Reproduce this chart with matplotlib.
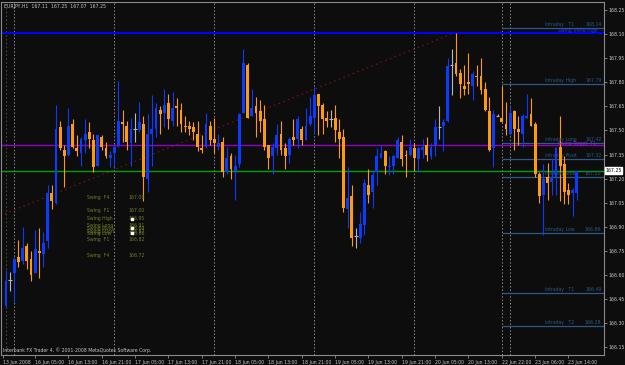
import numpy as np
import matplotlib
matplotlib.use('Agg')
import matplotlib.pyplot as plt

# EURJPY H1 candles, 13 Jun 22:00 .. 23 Jun 16:00
opens = [166.41, 166.57, 166.61, 166.71, 166.69, 166.78, 166.70, 166.61, 166.75, 166.73,
         166.81, 167.11, 167.05, 167.52, 167.38, 167.35, 167.54, 167.39, 167.36, 167.44,
         167.49, 167.44, 167.28, 167.46, 167.39, 167.33, 167.36, 167.41, 167.55, 167.53,
         167.42, 167.51, 167.50, 167.54, 167.20, 167.48, 167.51, 167.63, 167.61, 167.67,
         167.56, 167.65, 167.63, 167.53, 167.53, 167.52, 167.48, 167.39, 167.40, 167.53,
         167.45, 167.40, 167.43, 167.24, 167.34, 167.25, 167.29, 167.61, 167.91, 167.59,
         167.65, 167.62, 167.57, 167.41, 167.34, 167.39, 167.48, 167.39, 167.35, 167.46,
         167.45, 167.51, 167.44, 167.54, 167.58, 167.73, 167.66, 167.58, 167.57, 167.58,
         167.49, 167.46, 167.01, 167.09, 166.84, 166.83, 166.91, 167.16, 167.12, 167.24,
         167.33, 167.37, 167.27, 167.28, 167.33, 167.43, 167.35, 167.35, 167.39, 167.32,
         167.38, 167.41, 167.34, 167.41, 167.52, 167.53, 167.56, 167.91, 167.92, 167.86,
         167.78, 167.80, 167.78, 167.84, 167.84, 167.76, 167.62, 167.39, 167.59, 167.58,
         167.54, 167.48, 167.62, 167.51, 167.48, 167.58, 167.60, 167.54, 167.23, 167.10,
         167.21, 167.18, 167.21, 167.40, 167.29, 167.13, 167.11, 167.11]
highs = [166.63, 166.62, 166.71, 166.82, 166.90, 166.80, 166.75, 166.88, 166.89, 166.87,
         167.16, 167.16, 167.66, 167.56, 167.41, 167.64, 167.57, 167.47, 167.46, 167.57,
         167.55, 167.48, 167.47, 167.47, 167.43, 167.37, 167.41, 167.81, 167.63, 167.56,
         167.58, 167.61, 167.68, 167.59, 167.60, 167.72, 167.67, 167.65, 167.76, 167.73,
         167.74, 167.70, 167.67, 167.59, 167.56, 167.55, 167.56, 167.47, 167.61, 167.56,
         167.58, 167.48, 167.46, 167.40, 167.36, 167.35, 167.61, 168.01, 167.92, 167.76,
         167.71, 167.69, 167.66, 167.41, 167.42, 167.54, 167.56, 167.42, 167.46, 167.57,
         167.59, 167.53, 167.64, 167.71, 167.77, 167.73, 167.67, 167.62, 167.63, 167.66,
         167.57, 167.51, 167.27, 167.16, 166.89, 166.99, 167.20, 167.26, 167.25, 167.39,
         167.41, 167.38, 167.34, 167.35, 167.46, 167.47, 167.38, 167.45, 167.42, 167.40,
         167.45, 167.46, 167.42, 167.57, 167.65, 167.57, 167.95, 168.01, 168.11, 167.88,
         167.91, 167.98, 167.87, 167.91, 167.95, 167.80, 167.71, 167.63, 167.60, 167.78,
         167.68, 167.65, 167.63, 167.59, 167.60, 167.73, 167.70, 167.55, 167.24, 167.29,
         167.30, 167.32, 167.40, 167.59, 167.34, 167.17, 167.14, 167.25]
lows = [166.40, 166.50, 166.43, 166.65, 166.67, 166.64, 166.56, 166.61, 166.58, 166.65,
        166.77, 167.01, 167.04, 167.38, 167.15, 167.34, 167.39, 167.34, 167.28, 167.36,
        167.39, 167.24, 167.28, 167.38, 167.33, 167.27, 167.27, 167.40, 167.43, 167.38,
        167.28, 167.43, 167.49, 167.06, 167.12, 167.28, 167.46, 167.48, 167.52, 167.51,
        167.53, 167.53, 167.49, 167.49, 167.47, 167.44, 167.37, 167.36, 167.39, 167.41,
        167.36, 167.38, 167.21, 167.23, 167.20, 167.07, 167.27, 167.61, 167.58, 167.59,
        167.46, 167.49, 167.38, 167.26, 167.23, 167.35, 167.35, 167.26, 167.30, 167.41,
        167.39, 167.41, 167.44, 167.53, 167.48, 167.47, 167.48, 167.52, 167.52, 167.43,
        167.33, 166.99, 166.89, 166.78, 166.77, 166.80, 166.85, 167.05, 167.02, 167.16,
        167.33, 167.23, 167.22, 167.23, 167.33, 167.28, 167.21, 167.34, 167.25, 167.24,
        167.33, 167.31, 167.32, 167.34, 167.45, 167.37, 167.55, 167.72, 167.84, 167.70,
        167.72, 167.73, 167.69, 167.78, 167.73, 167.62, 167.37, 167.27, 167.59, 167.55,
        167.47, 167.47, 167.38, 167.41, 167.40, 167.58, 167.53, 167.21, 167.05, 166.85,
        167.07, 167.10, 167.10, 167.06, 167.04, 167.04, 166.97, 167.07]
closes = [166.56, 166.57, 166.70, 166.68, 166.77, 166.69, 166.60, 166.76, 166.74, 166.80,
          167.11, 167.06, 167.51, 167.39, 167.34, 167.53, 167.40, 167.37, 167.45, 167.48,
          167.45, 167.27, 167.47, 167.40, 167.34, 167.35, 167.40, 167.56, 167.54, 167.43,
          167.51, 167.51, 167.55, 167.21, 167.48, 167.51, 167.64, 167.60, 167.66, 167.57,
          167.64, 167.64, 167.54, 167.52, 167.51, 167.49, 167.40, 167.38, 167.54, 167.44,
          167.42, 167.42, 167.24, 167.33, 167.26, 167.28, 167.60, 167.92, 167.58, 167.64,
          167.61, 167.56, 167.40, 167.33, 167.40, 167.47, 167.38, 167.34, 167.45, 167.44,
          167.57, 167.44, 167.53, 167.59, 167.72, 167.65, 167.57, 167.56, 167.57, 167.50,
          167.45, 167.02, 167.08, 166.83, 166.84, 166.92, 167.17, 167.10, 167.22, 167.34,
          167.36, 167.28, 167.28, 167.34, 167.44, 167.32, 167.34, 167.40, 167.33, 167.39,
          167.40, 167.35, 167.40, 167.52, 167.52, 167.55, 167.90, 167.91, 167.85, 167.79,
          167.76, 167.79, 167.85, 167.83, 167.75, 167.63, 167.38, 167.60, 167.59, 167.55,
          167.51, 167.61, 167.51, 167.49, 167.59, 167.59, 167.53, 167.23, 167.09, 167.20,
          167.17, 167.21, 167.39, 167.28, 167.12, 167.10, 167.13, 167.25]

time_labels = ['13 Jun 2008', '16 Jun 05:00', '16 Jun 13:00', '16 Jun 21:00', '17 Jun 05:00',
               '17 Jun 13:00', '17 Jun 21:00', '18 Jun 05:00', '18 Jun 13:00', '18 Jun 21:00',
               '19 Jun 05:00', '19 Jun 13:00', '19 Jun 21:00', '20 Jun 05:00', '20 Jun 13:00',
               '22 Jun 22:00', '23 Jun 06:00', '23 Jun 14:00']
time_label_bars = [-0.7, 7, 15, 23, 31, 39, 47, 55, 63, 71, 79, 87, 95, 103, 111, 119, 127, 135]
separator_bars = [2, 26, 50, 74, 98, 119, 121]

price_ticks = [168.25, 168.10, 167.95, 167.80, 167.65, 167.50, 167.35, 167.20,
               167.05, 166.90, 166.75, 166.60, 166.45, 166.30, 166.15]

# intraday pivot levels (drawn from the Sunday open onwards)
intraday_names = ['Intraday   T1', 'Intraday High', 'Intraday Long', 'Intraday Pivot',
                  'Intraday Short', 'Intraday Low', 'Intraday   T1', 'Intraday   T2']
intraday_levels = [168.14, 167.79, 167.42, 167.32, 167.21, 166.86, 166.49, 166.28]

# swing levels printed on the left
swing_names = ['Swing  F4', 'Swing  F1', 'Swing High', 'Swing Long', 'Swing Pivot',
               'Swing Short', 'Swing Low', 'Swing  F1', 'Swing  F4']
swing_levels = [167.08, 167.00, 166.95, 166.91, 166.89, 166.87, 166.86, 166.82, 166.72]

trend_high = 168.11
swing_t1 = 167.41
last_price = 167.25
trend_x = [-1.4, 107.8]
trend_y = [166.97, 168.11]

bg = '#0d0d0d'
up_col = '#0a3cff'
dn_col = '#ff9a0a'
doji_col = '#b8b8b8'
lvl_col = '#2c5a84'
swing_col = '#6f7f22'
txt_col = '#c8c8c8'
fs = 3.3

fig = plt.figure(figsize=(6.25, 3.65), dpi=100, facecolor=bg)
ax = fig.add_axes([1 / 625, 10 / 365, 602.5 / 625, 353 / 365])
ax.set_facecolor(bg)

x = np.arange(len(opens))
o = np.array(opens)
h = np.array(highs)
l = np.array(lows)
c = np.array(closes)
cols = np.where(c > o, up_col, np.where(c < o, dn_col, doji_col))

ax.vlines(x, l, h, colors=cols, lw=0.8, zorder=3)
ax.bar(x, c - o, bottom=o, width=0.7, color=cols, linewidth=0, zorder=4)
doji = c == o
ax.hlines(o[doji], x[doji] - 0.4, x[doji] + 0.4, colors=doji_col, lw=0.8, zorder=4)

for b in separator_bars:
    ax.axvline(b, color='#8a8a8a', lw=0.7, ls=(0, (1.5, 2)), zorder=1)
ax.axvline(0, color='#4a4a30', lw=0.8, ls=(0, (1.5, 2)), zorder=1)

ax.plot(trend_x, trend_y, color='#7a1414', lw=0.8, ls=(0, (1.5, 3)), zorder=2)

ax.axhline(trend_high, color='#0000ff', lw=1.5, zorder=2)
ax.axhline(swing_t1, color='#8f00c8', lw=1.0, zorder=2)
ax.axhline(last_price, color='#00a000', lw=1.0, zorder=2)

x_end = 143.4
for name, lvl in zip(intraday_names, intraday_levels):
    ax.hlines(lvl, separator_bars[5], x_end, colors=lvl_col, lw=0.9, zorder=2)
    ax.text(129.3, lvl + 0.006, name, color=lvl_col, fontsize=fs, ha='left', va='bottom')
    ax.text(142.9, lvl + 0.006, f'{lvl:.2f}', color=lvl_col, fontsize=fs, ha='right', va='bottom')
ax.text(132.5, trend_high - 0.004, 'Swing Trend High', color='#1a3cff', fontsize=fs, ha='left', va='bottom')
ax.text(132.5, swing_t1 - 0.004, 'Swing Target  T1', color='#9a20d0', fontsize=fs, ha='left', va='bottom')

for name, lvl in zip(swing_names, swing_levels):
    ax.text(19.5, lvl, name, color=swing_col, fontsize=fs, ha='left', va='center')
    ax.text(29.5, lvl, f'{lvl:.2f}', color=swing_col, fontsize=fs, ha='left', va='center')
ax.scatter([30.2, 30.2, 30.2], [swing_levels[2], swing_levels[4], swing_levels[6]],
           s=0.6, color='white', marker='s', zorder=5)

ax.set_xlim(-1.19, x_end)
ax.set_ylim(166.102, 168.30)

ax.yaxis.tick_right()
ax.set_yticks(price_ticks)
ax.set_yticklabels([f'{p:.2f}' for p in price_ticks])
ax.set_xticks(time_label_bars)
ax.set_xticklabels(time_labels, ha='left')
ax.tick_params(axis='both', colors='#909090', labelcolor=txt_col, labelsize=fs,
               length=2.5, width=0.6, pad=1.2)
for s in ax.spines.values():
    s.set_color('#8a8a8a')
    s.set_linewidth(0.8)

ax.text(0.005, 0.995, 'EURJPY,H1  167.11  167.25  167.07  167.25', transform=ax.transAxes,
        color=txt_col, fontsize=fs, ha='left', va='top')
ax.text(0.003, 0.005, 'Interbank FX Trader 4, \u00a9 2001-2008 MetaQuotes Software Corp.',
        transform=ax.transAxes, color=txt_col, fontsize=fs, ha='left', va='bottom')
ax.text(1.003, last_price, f'{last_price:.2f}', transform=ax.get_yaxis_transform(),
        color='black', fontsize=fs, ha='left', va='center',
        bbox=dict(boxstyle='square,pad=0.15', fc='white', ec='white'), clip_on=False)

fig.savefig('out.png', dpi=100, facecolor=bg)
